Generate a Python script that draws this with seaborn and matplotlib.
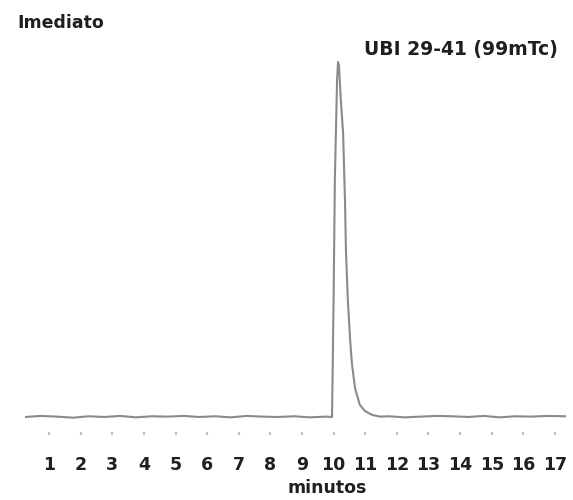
import matplotlib
matplotlib.use("Agg")
import matplotlib.pyplot as plt
import seaborn as sns
import pandas as pd

# ---- data ----
minutes = [0.24, 0.75, 1.25, 1.75, 2.25, 2.75, 3.25, 3.75, 4.25, 4.75,
           5.25, 5.75, 6.25, 6.75, 7.25, 7.75, 8.25, 8.75, 9.25, 9.75, 9.95,
           10.00, 10.04, 10.11, 10.14, 10.17, 10.23, 10.30, 10.36, 10.39,
           10.45, 10.52, 10.58, 10.68, 10.83, 10.99, 11.21, 11.47,
           11.75, 12.25, 12.75, 13.25, 13.75, 14.25, 14.75, 15.25, 15.75,
           16.25, 16.75, 17.35]
signal = [0.0, 0.3, 0.1, -0.2, 0.2, 0.0, 0.3, -0.1, 0.2, 0.1,
          0.3, 0.0, 0.2, -0.1, 0.3, 0.1, 0.0, 0.2, -0.1, 0.1, 0.0,
          33, 67, 95, 100, 99, 89, 80, 61, 47,
          33, 22, 15, 8, 3.4, 1.7, 0.6, 0.1,
          0.2, -0.1, 0.1, 0.3, 0.2, 0.0, 0.3, -0.1, 0.2,
          0.1, 0.3, 0.2]
tick_values = list(range(1, 18))
tick_labels = [str(v) for v in tick_values]
title_text = "Imediato"
peak_label = "UBI 29-41 (99mTc)"
x_label = "minutos"

df = pd.DataFrame({"minutos": minutes, "sinal": signal})

sns.set_theme(style="white")
plt.rcParams["font.family"] = ["DejaVu Sans"]

fig = plt.figure(figsize=(5.73, 5.0), dpi=100)
ax = fig.add_axes([25 / 573, (500 - 432) / 500, 541 / 573, 372 / 500])

sns.lineplot(data=df, x="minutos", y="sinal", ax=ax, sort=False,
             color="#8a8a8a", linewidth=1.5)

ax.set_xlim(0.24, 17.35)
ax.set_ylim(-4.23, 100.56)
for s in ax.spines.values():
    s.set_visible(False)
ax.set_yticks([])
ax.set_xticks(tick_values)
ax.set_xticklabels(tick_labels, fontsize=12.5, fontweight="bold", color="#1f1f1f")
ax.tick_params(axis="x", direction="out", length=2.5, width=1.6,
               color="#c0c0c0", pad=15, bottom=True)
ax.set_xlabel(x_label, fontsize=12.5, fontweight="bold", color="#1f1f1f")
ax.xaxis.set_label_coords((327 - 25) / 541, -(488 - 432) / 372)
ax.xaxis.label.set_va("center")
ax.set_ylabel("")

fig.text(17 / 573, 1 - 23 / 500, title_text, fontsize=12.5, fontweight="bold",
         color="#1f1f1f", ha="left", va="center")
fig.text(461 / 573, 1 - 49 / 500, peak_label, fontsize=13.5, fontweight="bold",
         color="#1f1f1f", ha="center", va="center")

fig.savefig("out.png", dpi=100)
